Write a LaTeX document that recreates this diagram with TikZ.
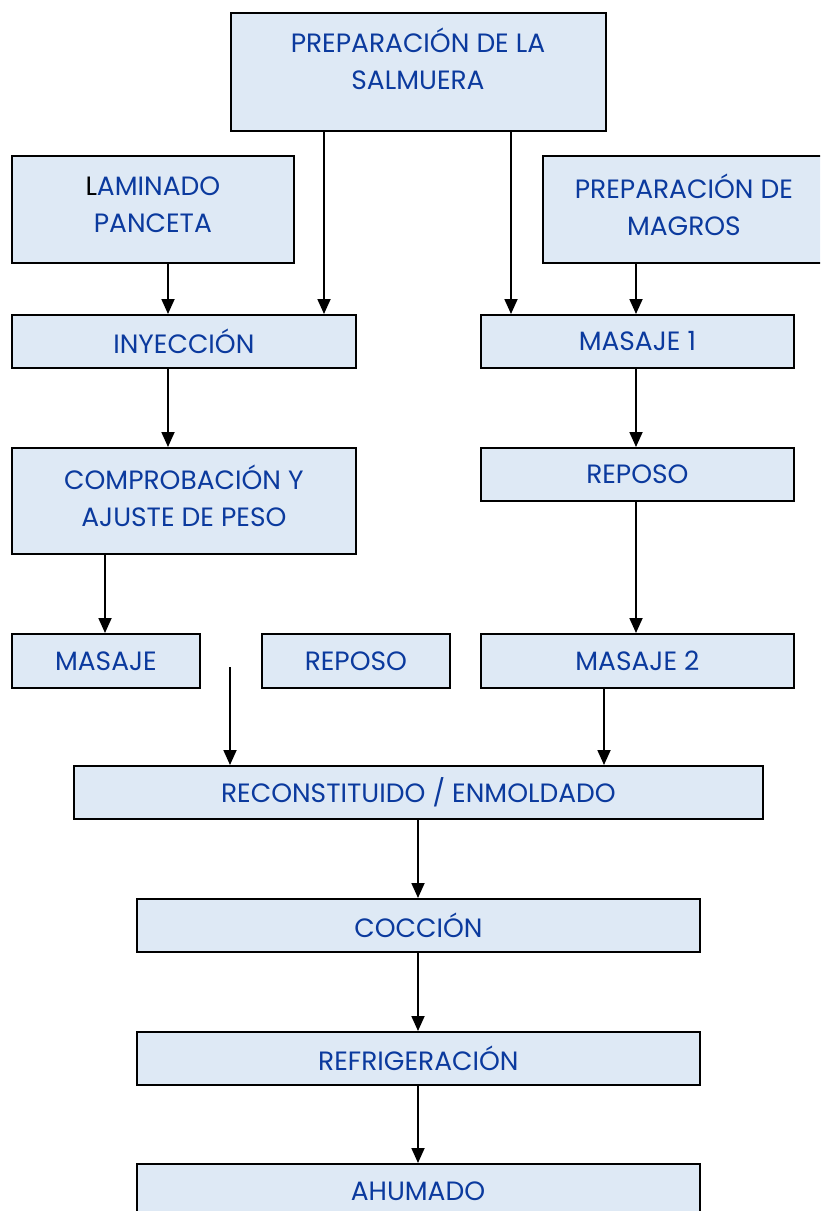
\documentclass[tikz,border=0pt]{standalone}
\usepackage{fontspec}
\setmainfont{Poppins}
\usetikzlibrary{arrows.meta}
\definecolor{boxfill}{HTML}{DEE9F5}
\definecolor{txtblue}{HTML}{0B3A9E}
\tikzset{
  box/.style={draw=black, line width=1.8pt, fill=boxfill, text=txtblue, align=center, inner sep=0pt, font=\fontsize{26.5}{37}\selectfont},
  txt/.style={text=txtblue, align=center, inner sep=0pt, font=\fontsize{26.5}{37}\selectfont},
  arr/.style={line width=1.8pt, -{Triangle[width=13pt,length=15pt]}}
}
\begin{document}
\begin{tikzpicture}[x=1pt,y=-1pt]
\useasboundingbox (0,0) rectangle (820,1211);
\clip (0,0) rectangle (820,1211);
\node[box, minimum width=375pt, minimum height=118pt, anchor=north west] (sal) at (230,12) {};
\node[txt] (saltxt) at (418,59) {PREPARACIÓN DE LA\\SALMUERA};
\node[box, minimum width=282pt, minimum height=107pt, anchor=north west] (lam) at (11,155) {};
\node[txt] (lamtxt) at ([yshift=5pt]lam.center) {\textcolor{black}{L}AMINADO\\PANCETA};
\node[box, minimum width=290pt, minimum height=107pt, anchor=north west] (mag) at (542,155) {};
\node[txt] (magtxt) at ([yshift=5pt,xshift=-4pt]mag.center) {PREPARACIÓN DE\\MAGROS};
\node[box, minimum width=344pt, minimum height=53pt, anchor=north west] (iny) at (11,314) {INYECCIÓN};
\node[box, minimum width=313pt, minimum height=53pt, anchor=north west] (mas1) at (480,314) {MASAJE 1};
\node[box, minimum width=344pt, minimum height=106pt, anchor=north west] (comp) at (11,447) {};
\node[txt] (comptxt) at ([yshift=5pt]comp.center) {COMPROBACIÓN Y\\AJUSTE DE PESO};
\node[box, minimum width=313pt, minimum height=53pt, anchor=north west] (rep1) at (480,447) {REPOSO};
\node[box, minimum width=188pt, minimum height=54pt, anchor=north west] (mas) at (11,633) {MASAJE};
\node[box, minimum width=188pt, minimum height=54pt, anchor=north west] (rep2) at (261,633) {REPOSO};
\node[box, minimum width=313pt, minimum height=54pt, anchor=north west] (mas2) at (480,633) {MASAJE 2};
\node[box, minimum width=689pt, minimum height=53pt, anchor=north west] (rec) at (73,765) {RECONSTITUIDO / ENMOLDADO};
\node[box, minimum width=563pt, minimum height=53pt, anchor=north west] (coc) at (136,898) {COCCIÓN};
\node[box, minimum width=563pt, minimum height=53pt, anchor=north west] (ref) at (136,1031) {REFRIGERACIÓN};
\node[box, minimum width=563pt, minimum height=110pt, anchor=north west] (ahu) at (136,1163) {};
\node[txt] (ahutxt) at (418,1191) {AHUMADO};
\coordinate (free) at (230,667);
\draw[arr] (sal.south -| 324,0) -- (iny.north -| 324,0);
\draw[arr] (sal.south -| 511,0) -- (mas1.north -| 511,0);
\draw[arr] (lam.south -| 168,0) -- (iny.north -| 168,0);
\draw[arr] (mag.south -| 636,0) -- (mas1.north -| 636,0);
\draw[arr] (iny.south -| 168,0) -- (comp.north -| 168,0);
\draw[arr] (mas1.south -| 636,0) -- (rep1.north -| 636,0);
\draw[arr] (comp.south -| 105,0) -- (mas.north -| 105,0);
\draw[arr] (rep1.south -| 636,0) -- (mas2.north -| 636,0);
\draw[arr] (free) -- (rec.north -| free);
\draw[arr] (mas2.south -| 604,0) -- (rec.north -| 604,0);
\draw[arr] (rec.south -| 418,0) -- (coc.north -| 418,0);
\draw[arr] (coc.south -| 418,0) -- (ref.north -| 418,0);
\draw[arr] (ref.south -| 418,0) -- (ahu.north -| 418,0);
\end{tikzpicture}
\end{document}
